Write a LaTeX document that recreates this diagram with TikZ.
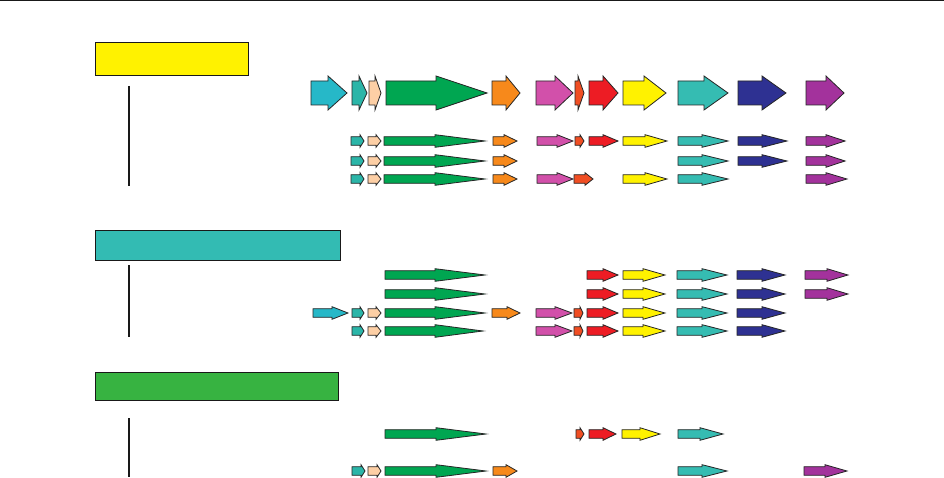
\documentclass[tikz,border=0pt]{standalone}
\definecolor{cCyan}{RGB}{38,184,200}
\definecolor{cTealS}{RGB}{43,181,168}
\definecolor{cPeach}{RGB}{253,207,165}
\definecolor{cGreen}{RGB}{0,166,81}
\definecolor{cOrange}{RGB}{247,137,27}
\definecolor{cMagenta}{RGB}{210,80,170}
\definecolor{cOrRed}{RGB}{240,78,35}
\definecolor{cRed}{RGB}{237,28,36}
\definecolor{cYellow}{RGB}{255,242,0}
\definecolor{cTeal}{RGB}{53,188,178}
\definecolor{cNavy}{RGB}{46,49,146}
\definecolor{cPurple}{RGB}{163,50,156}
\definecolor{bYellow}{RGB}{255,242,0}
\definecolor{bTeal}{RGB}{51,187,179}
\definecolor{bGreen}{RGB}{55,179,65}
\tikzset{
  gene/.style={draw=black!85, line width=0.8pt, line join=miter},
  groupbox/.style={draw=black!90, line width=1pt},
  treeline/.style={draw=black!90, line width=1.6pt},
}
% big gene arrow at y=93: color, x0, xh, xt
\newcommand{\bigG}[4]{\filldraw[gene,fill=#1] (#2,81) -- (#3,81) -- (#3,76) -- (#4,93) -- (#3,110) -- (#3,105) -- (#2,105) -- cycle;}
% small gene arrow: color, x0, xh, xt, y
\newcommand{\smG}[5]{\filldraw[gene,fill=#1] (#2,{#5-4.3}) -- (#3,{#5-4.3}) -- (#3,{#5-6.3}) -- (#4,#5) -- (#3,{#5+6.3}) -- (#3,{#5+4.3}) -- (#2,{#5+4.3}) -- cycle;}
\begin{document}
\begin{tikzpicture}[x=1pt,y=-1pt]
\useasboundingbox (0,0) rectangle (944,478);
\draw[line width=1.2pt, black!90] (0,0.6) -- (944,0.6);
% group boxes
\node[groupbox, fill=bYellow, minimum width=153pt, minimum height=33pt, inner sep=0pt, anchor=north west] (boxA) at (95,42) {};
\node[groupbox, fill=bTeal, minimum width=245pt, minimum height=30pt, inner sep=0pt, anchor=north west] (boxB) at (95,230) {};
\node[groupbox, fill=bGreen, minimum width=243pt, minimum height=28pt, inner sep=0pt, anchor=north west] (boxC) at (95,372) {};
% tree lines
\coordinate (a1) at (129,86); \coordinate (a2) at (129,186);
\coordinate (b1) at (129,265); \coordinate (b2) at (129,337);
\coordinate (c1) at (129,418); \coordinate (c2) at (129,477);
\draw[treeline] (a1) -- (a2);
\draw[treeline] (b1) -- (b2);
\draw[treeline] (c1) -- (c2);
% reference cluster (big arrows)
\bigG{cCyan}{311}{328}{347}
\bigG{cTealS}{352}{359}{367}
\bigG{cPeach}{369}{375}{381}
\bigG{cGreen}{386}{436}{487}
\bigG{cOrange}{492}{506}{520}
\bigG{cMagenta}{536}{555}{573}
\bigG{cOrRed}{575}{578}{584}
\bigG{cRed}{589}{603}{618}
\bigG{cYellow}{623}{644}{666}
\bigG{cTeal}{678}{704}{728}
\bigG{cNavy}{738}{762}{786}
\bigG{cPurple}{806}{826}{844}
% group 1 row 1 (y=141)
\smG{cTealS}{351}{360}{364}{141}
\smG{cPeach}{368}{376}{381}{141}
\smG{cGreen}{384}{435}{485}{141}
\smG{cOrange}{493}{504}{517}{141}
\smG{cMagenta}{537}{557}{573}{141}
\smG{cOrRed}{575}{580}{584}{141}
\smG{cRed}{589}{603}{618}{141}
\smG{cYellow}{623}{645}{667}{141}
\smG{cTeal}{678}{702}{728}{141}
\smG{cNavy}{738}{762}{787}{141}
\smG{cPurple}{806}{826}{845}{141}
% group 1 row 2 (y=161)
\smG{cTealS}{351}{360}{364}{161}
\smG{cPeach}{368}{376}{381}{161}
\smG{cGreen}{384}{435}{485}{161}
\smG{cOrange}{493}{504}{517}{161}
\smG{cTeal}{678}{702}{728}{161}
\smG{cNavy}{738}{762}{787}{161}
\smG{cPurple}{806}{826}{845}{161}
% group 1 row 3 (y=179)
\smG{cTealS}{351}{360}{364}{179}
\smG{cPeach}{368}{376}{381}{179}
\smG{cGreen}{384}{435}{485}{179}
\smG{cOrange}{493}{504}{517}{179}
\smG{cMagenta}{537}{557}{573}{179}
\smG{cOrRed}{574}{585}{593}{179}
\smG{cYellow}{623}{645}{667}{179}
\smG{cTeal}{678}{702}{728}{179}
\smG{cPurple}{806}{826}{847}{179}
% group 2 row 1 (y=275)
\smG{cGreen}{385}{435}{485}{275}
\smG{cRed}{587}{603}{618}{275}
\smG{cYellow}{623}{643}{665}{275}
\smG{cTeal}{677}{702}{727}{275}
\smG{cNavy}{737}{762}{785}{275}
\smG{cPurple}{805}{827}{848}{275}
% group 2 row 2 (y=294)
\smG{cGreen}{385}{435}{485}{294}
\smG{cRed}{587}{603}{618}{294}
\smG{cYellow}{623}{643}{665}{294}
\smG{cTeal}{677}{702}{727}{294}
\smG{cNavy}{737}{762}{785}{294}
\smG{cPurple}{805}{827}{848}{294}
% group 2 row 3 (y=313)
\smG{cCyan}{313}{332}{348}{313}
\smG{cTealS}{352}{360}{364}{313}
\smG{cPeach}{368}{376}{381}{313}
\smG{cGreen}{385}{435}{485}{313}
\smG{cOrange}{492}{507}{520}{313}
\smG{cMagenta}{536}{555}{572}{313}
\smG{cOrRed}{574}{580}{583}{313}
\smG{cRed}{587}{603}{618}{313}
\smG{cYellow}{623}{643}{665}{313}
\smG{cTeal}{677}{702}{727}{313}
\smG{cNavy}{737}{762}{785}{313}
% group 2 row 4 (y=331)
\smG{cTealS}{352}{360}{364}{331}
\smG{cPeach}{368}{376}{381}{331}
\smG{cGreen}{385}{435}{483}{331}
\smG{cMagenta}{536}{555}{572}{331}
\smG{cOrRed}{574}{580}{583}{331}
\smG{cRed}{587}{603}{618}{331}
\smG{cYellow}{623}{643}{665}{331}
\smG{cTeal}{677}{702}{727}{331}
\smG{cNavy}{737}{762}{785}{331}
% group 3 row 1 (y=434)
\smG{cGreen}{385}{436}{486}{434}
\smG{cOrRed}{576}{580}{584}{434}
\smG{cRed}{589}{603}{616}{434}
\smG{cYellow}{622}{640}{660}{434}
\smG{cTeal}{678}{700}{723}{434}
% group 3 row 2 (y=471)
\smG{cTealS}{352}{361}{365}{471}
\smG{cPeach}{368}{377}{381}{471}
\smG{cGreen}{385}{436}{486}{471}
\smG{cOrange}{493}{506}{517}{471}
\smG{cTeal}{678}{702}{727}{471}
\smG{cPurple}{804}{825}{847}{471}
\end{tikzpicture}
\end{document}
